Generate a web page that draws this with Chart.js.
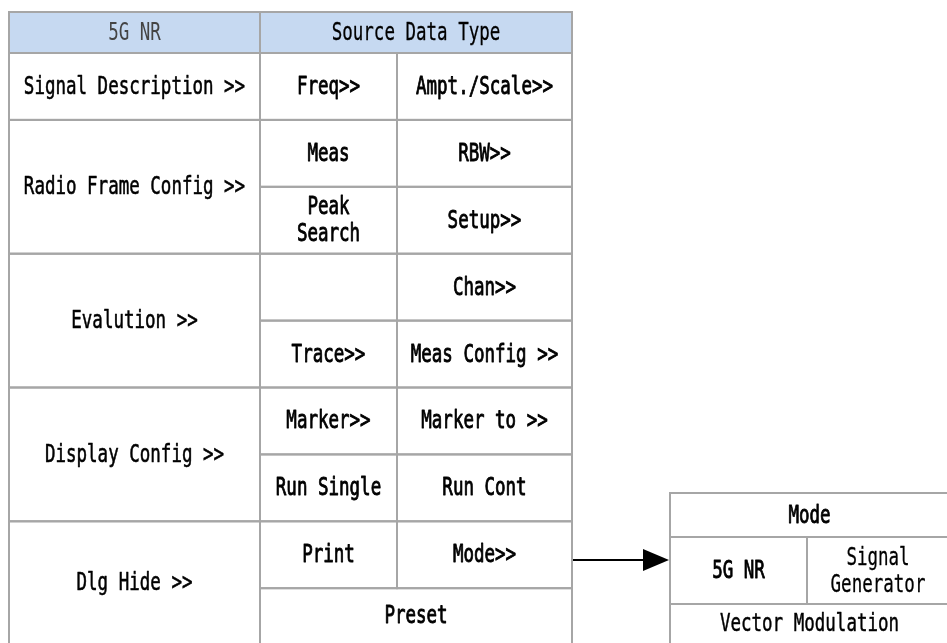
<!DOCTYPE html>
<html>
<head>
<meta charset="utf-8">
<script src="https://cdn.jsdelivr.net/npm/chart.js@4"></script>
<style>
html,body{margin:0;padding:0;background:#fff;}
#wrap{width:947px;height:643px;}
</style>
</head>
<body>
<div id="wrap"><canvas id="c" width="947" height="643"></canvas></div>
<script>
// ---- data (texts of the menu tree) ----
const headerLabels = ['5G NR', 'Source Data Type'];
const leftMenu = ['Signal Description >>', 'Radio Frame Config >>', 'Evalution >>', 'Display Config >>', 'Dlg Hide >>'];
const leftMenuSpans = [1, 2, 2, 2, 2];
const softKeysCol1 = ['Freq>>', 'Meas', 'Peak\nSearch', '', 'Trace>>', 'Marker>>', 'Run Single', 'Print'];
const softKeysCol2 = ['Ampt./Scale>>', 'RBW>>', 'Setup>>', 'Chan>>', 'Meas Config >>', 'Marker to >>', 'Run Cont', 'Mode>>'];
const lastRowKey = 'Preset';
const modeTitle = 'Mode';
const modeItems = ['5G NR', 'Signal\nGenerator'];
const modeBottom = 'Vector Modulation';

// ---- layout (positions in scale units) ----
const L = {
  colX: [9, 260, 397, 572],
  headTop: 12, headBottom: 53, subRowH: 66.9, bottom: 645,
  modeX: [670, 807, 949], modeY: [493, 537, 604, 645]
};
const STYLE = {
  border: '#a6a6a6', headFill: '#c6d9f1', text: '#000', headText1: '#444',
  font: '25px "DejaVu Sans Mono", "Liberation Mono", monospace',
  condense: 0.70, lineH: 27
};

const tablePlugin = {
  id: 'menuTable',
  afterDatasetsDraw(chart) {
    const ctx = chart.ctx, xs = chart.scales.x, ys = chart.scales.y;
    const X = v => xs.getPixelForValue(v), Y = v => ys.getPixelForValue(v);
    const cells = [];
    const cell = (x0, x1, y0, y1, text, fill, color, weight) => cells.push({x0, x1, y0, y1, text, fill, color, weight});
    const rowY = i => L.headBottom + i * L.subRowH;
    // header
    cell(L.colX[0], L.colX[1], L.headTop, L.headBottom, headerLabels[0], STYLE.headFill, STYLE.headText1, 0);
    cell(L.colX[1], L.colX[3], L.headTop, L.headBottom, headerLabels[1], STYLE.headFill, STYLE.text, 0.3);
    // left menu
    let r = 0;
    leftMenu.forEach((t, i) => {
      const y0 = rowY(r);
      const y1 = (i === leftMenu.length - 1) ? L.bottom : rowY(r + leftMenuSpans[i]);
      cell(L.colX[0], L.colX[1], y0, y1, t, null, STYLE.text, 0.6);
      r += leftMenuSpans[i];
    });
    // soft keys
    softKeysCol1.forEach((t, i) => {
      cell(L.colX[1], L.colX[2], rowY(i), rowY(i + 1), t, null, STYLE.text, 0.9);
      cell(L.colX[2], L.colX[3], rowY(i), rowY(i + 1), softKeysCol2[i], null, STYLE.text, 0.9);
    });
    cell(L.colX[1], L.colX[3], rowY(softKeysCol1.length), L.bottom, lastRowKey, null, STYLE.text, 0.9);
    // mode menu
    cell(L.modeX[0], L.modeX[2], L.modeY[0], L.modeY[1], modeTitle, null, STYLE.text, 0.9);
    cell(L.modeX[0], L.modeX[1], L.modeY[1], L.modeY[2], modeItems[0], null, STYLE.text, 0.9);
    cell(L.modeX[1], L.modeX[2], L.modeY[1], L.modeY[2], modeItems[1], null, STYLE.text, 0.3);
    cell(L.modeX[0], L.modeX[2], L.modeY[2], L.modeY[3], modeBottom, null, STYLE.text, 0.5);

    ctx.save();
    cells.forEach(c => {
      if (c.fill) { ctx.fillStyle = c.fill; ctx.fillRect(X(c.x0), Y(c.y0), X(c.x1) - X(c.x0), Y(c.y1) - Y(c.y0)); }
    });
    ctx.strokeStyle = STYLE.border; ctx.lineWidth = 2;
    cells.forEach(c => { ctx.strokeRect(X(c.x0), Y(c.y0), X(c.x1) - X(c.x0), Y(c.y1) - Y(c.y0)); });
    ctx.textAlign = 'center'; ctx.textBaseline = 'middle';
    ctx.font = STYLE.font; ctx.lineJoin = 'round';
    cells.forEach(c => {
      if (!c.text) return;
      const lines = c.text.split('\n');
      const cx = (X(c.x0) + X(c.x1)) / 2;
      const cy = (Y(Math.max(c.y0, 0)) + Y(Math.min(c.y1, 643))) / 2;
      ctx.fillStyle = c.color; ctx.strokeStyle = c.color;
      lines.forEach((ln, k) => {
        const y = cy + (k - (lines.length - 1) / 2) * STYLE.lineH + 1;
        ctx.save(); ctx.translate(cx, y); ctx.scale(STYLE.condense, 1);
        ctx.fillText(ln, 0, 0);
        if (c.weight > 0) { ctx.lineWidth = c.weight; ctx.strokeText(ln, 0, 0); }
        ctx.restore();
      });
    });
    // arrow from "Mode>>" key to Mode menu
    const ay = Y((L.modeY[1] + L.modeY[2]) / 2 - 10.5);
    const ax0 = X(L.colX[3]) + 1, ax1 = X(L.modeX[0]) - 1;
    ctx.strokeStyle = '#000'; ctx.lineWidth = 2;
    ctx.beginPath(); ctx.moveTo(ax0, ay); ctx.lineTo(ax1 - 24, ay); ctx.stroke();
    ctx.fillStyle = '#000';
    ctx.beginPath(); ctx.moveTo(ax1, ay); ctx.lineTo(ax1 - 26, ay - 11); ctx.lineTo(ax1 - 26, ay + 11); ctx.closePath(); ctx.fill();
    ctx.restore();
  }
};

new Chart(document.getElementById('c'), {
  type: 'scatter',
  data: { datasets: [{ data: [], pointRadius: 0 }] },
  options: {
    responsive: false, animation: false, devicePixelRatio: 1,
    layout: { padding: 0 },
    plugins: { legend: { display: false }, tooltip: { enabled: false } },
    scales: {
      x: { type: 'linear', min: 0, max: 947, display: false },
      y: { type: 'linear', min: 0, max: 643, reverse: true, display: false }
    }
  },
  plugins: [tablePlugin]
});
</script>
</body>
</html>
